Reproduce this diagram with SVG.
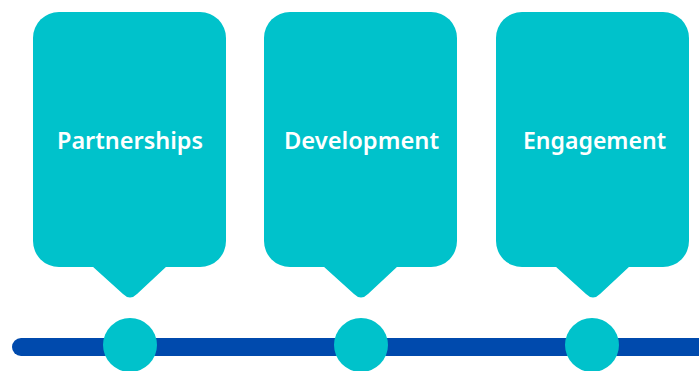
<svg xmlns="http://www.w3.org/2000/svg" width="699" height="371" viewBox="0 0 699 371">
<style>
.box{fill:#00C2CB}
.dot{fill:#00C2CB}
.lbl{fill:#ffffff;font-family:"Noto Sans","Open Sans","Liberation Sans",sans-serif;font-weight:600;font-size:24px;text-anchor:middle}
</style>
<rect width="699" height="371" fill="#ffffff"/>
<g id="connectors">
<line x1="21" y1="347" x2="720" y2="347" stroke="#004AAD" stroke-width="18" stroke-linecap="round"/>
</g>
<g id="node1">
<rect class="box" x="33" y="12" width="193" height="255" rx="26"/>
<path class="box" d="M92 266 L167 266 L137 294 Q130 301 123 294 Z"/>
<text class="lbl" x="130" y="148.5" textLength="146" lengthAdjust="spacingAndGlyphs">Partnerships</text>
</g>
<g id="node2">
<rect class="box" x="264" y="12" width="193" height="255" rx="26"/>
<path class="box" d="M323 266 L398 266 L368 294 Q361 301 354 294 Z"/>
<text class="lbl" x="361.5" y="148.5" textLength="155" lengthAdjust="spacingAndGlyphs">Development</text>
</g>
<g id="node3">
<rect class="box" x="496" y="12" width="193" height="255" rx="26"/>
<path class="box" d="M555 266 L630 266 L600 294 Q593 301 586 294 Z"/>
<text class="lbl" x="594.5" y="148.5" textLength="143" lengthAdjust="spacingAndGlyphs">Engagement</text>
</g>
<g id="dots">
<circle class="dot" cx="130" cy="345" r="27"/>
<circle class="dot" cx="361" cy="345" r="27"/>
<circle class="dot" cx="592" cy="345" r="27"/>
</g>
</svg>
